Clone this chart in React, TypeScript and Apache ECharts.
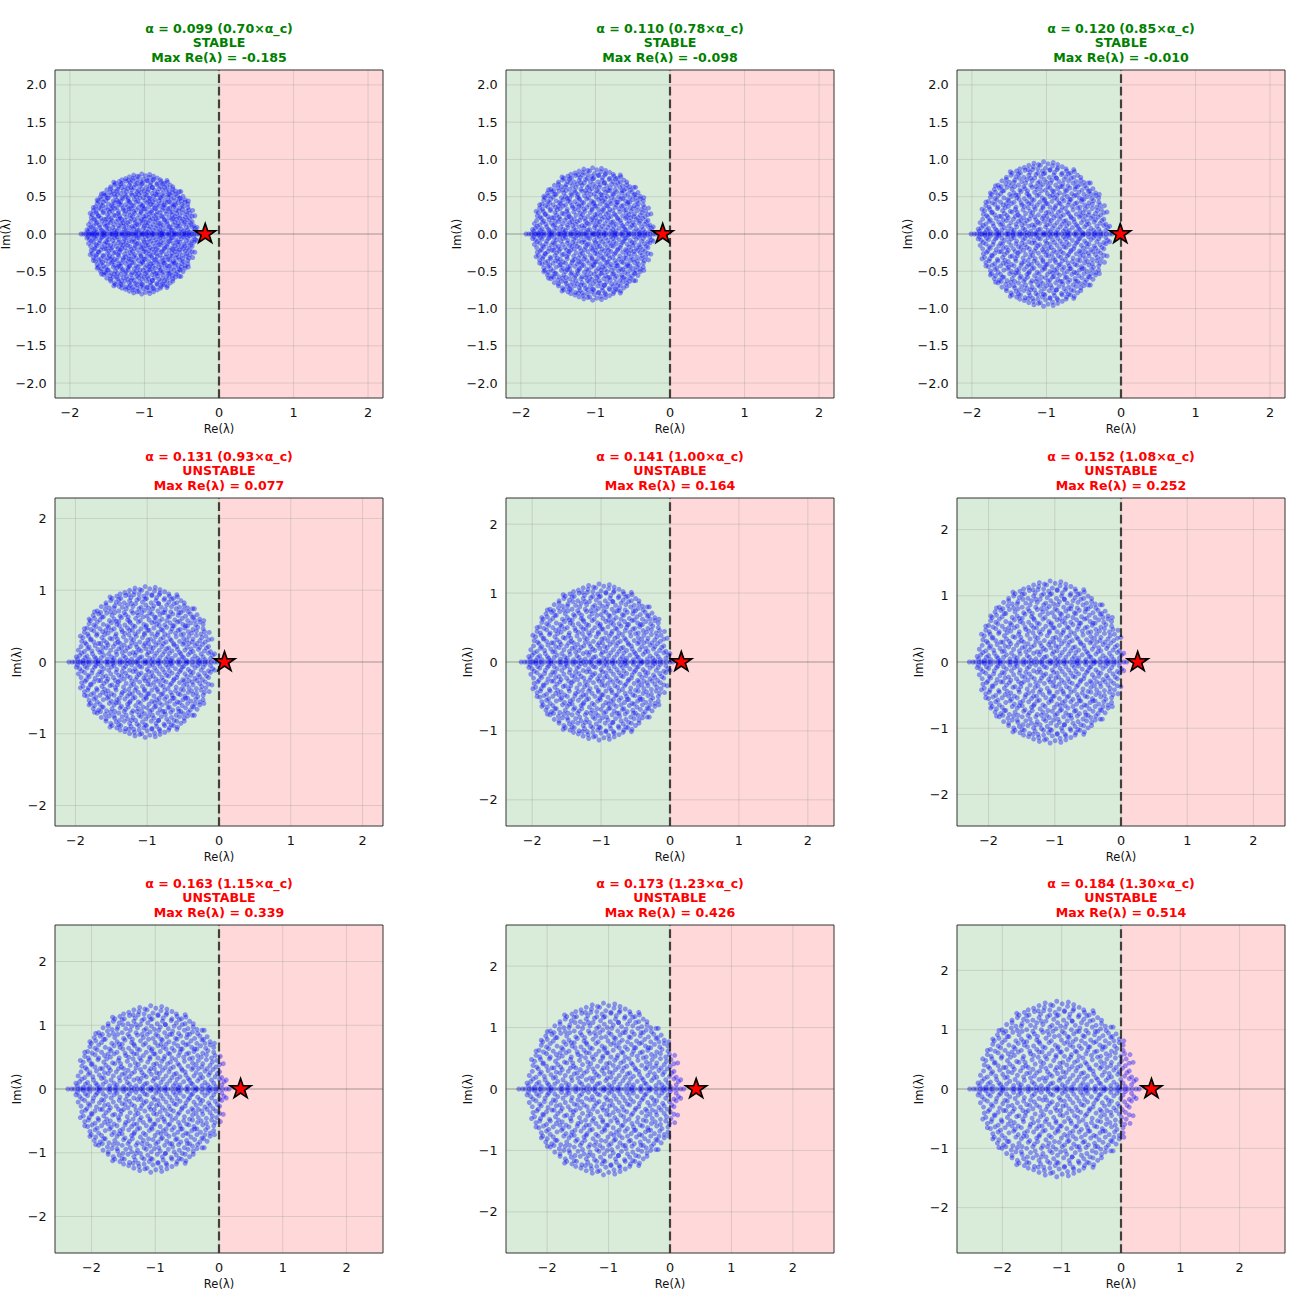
import React, { useEffect, useRef } from 'react';
import * as echarts from 'echarts';

// ---- values ----
const ALPHAS = [0.099, 0.11, 0.12, 0.131, 0.141, 0.152, 0.163, 0.173, 0.184];
const RATIO_LABELS = ['0.70', '0.78', '0.85', '0.93', '1.00', '1.08', '1.15', '1.23', '1.30'];
const MAX_RE = [-0.185, -0.098, -0.01, 0.077, 0.164, 0.252, 0.339, 0.426, 0.514];
const AXIS_LIMITS = [2.2, 2.2, 2.2, 2.285, 2.38, 2.477, 2.573, 2.669, 2.765];
// bulk of the spectrum: centre and semi-axes (in Re, Im) per panel
const BULK_CENTER = [-1.03, -1.03, -1.03, -1.02, -1.02, -1.06, -1.06, -1.07, -1.07];
const BULK_RX = [0.72, 0.79, 0.86, 0.94, 1.0, 1.08, 1.15, 1.22, 1.3];
const BULK_RY = [0.79, 0.87, 0.95, 1.03, 1.11, 1.2, 1.28, 1.37, 1.45];

const X_TICKS = [-2, -1, 0, 1, 2];
const Y_TICKS_FINE = [-2, -1.5, -1, -0.5, 0, 0.5, 1, 1.5, 2];
const Y_TICKS_COARSE = [-2, -1, 0, 1, 2];

// complex eigenvalues (upper half plane, normalised to the bulk); conjugates are mirrored
const UNIT_UPPER = [
  [-1.01,.04],[-.93,.02],[-.90,.06],[-.84,.03],[-.74,.05],[-.71,.02],[-.66,.06],[-.57,.04],[-.49,.02],[-.47,.05],[-.38,.03],[-.30,.06],[-.27,.02],[-.21,.04],[-.12,.03],[-.09,.06],[-.01,.02],[.06,.05],[.10,.03],[.18,.02],[.21,.06],[.30,.04],[.37,.02],[.39,.05],[.49,.03],[.56,.06],[.60,.02],[.69,.04],[.77,.05],[.80,.02],[.88,.03],[.96,.05],
  [-.98,.09],[-.95,.12],[-.87,.08],[-.79,.11],[-.76,.07],[-.68,.13],[-.62,.09],[-.55,.11],[-.51,.07],[-.43,.10],[-.35,.13],[-.33,.08],[-.24,.11],[-.16,.09],[-.14,.13],[-.06,.07],[.02,.10],[.04,.13],[.13,.08],[.16,.12],[.25,.10],[.33,.07],[.35,.12],[.44,.09],[.52,.11],[.54,.07],[.63,.10],[.66,.13],[.73,.08],[.82,.11],[.85,.07],[.93,.12],[.99,.09],
  [-1.0,.16],[-.91,.14],[-.86,.18],[-.80,.15],[-.71,.17],[-.65,.14],[-.59,.19],[-.52,.16],[-.44,.14],[-.40,.18],[-.30,.15],[-.27,.19],[-.19,.13],[-.10,.17],[-.07,.15],[0,.18],[.09,.14],[.11,.19],[.20,.16],[.28,.14],[.31,.18],[.39,.15],[.47,.17],[.50,.13],[.58,.16],[.67,.18],[.70,.14],[.78,.17],[.87,.15],[.90,.19],[.96,.14],
  [-.96,.21],[-.88,.24],[-.84,.20],[-.75,.22],[-.67,.25],[-.64,.20],[-.56,.23],[-.48,.21],[-.45,.25],[-.36,.19],[-.32,.23],[-.23,.21],[-.15,.24],[-.13,.20],[-.03,.22],[.04,.25],[.07,.20],[.15,.23],[.24,.21],[.26,.25],[.34,.19],[.42,.23],[.46,.21],[.55,.24],[.61,.20],[.64,.25],[.73,.22],[.80,.20],[.84,.24],[.93,.21],
  [-.95,.28],[-.90,.26],[-.82,.30],[-.77,.27],[-.70,.25],[-.62,.29],[-.58,.26],[-.50,.31],[-.41,.27],[-.38,.25],[-.29,.29],[-.21,.26],[-.18,.30],[-.09,.27],[-.01,.25],[.03,.30],[.12,.28],[.19,.26],[.22,.31],[.30,.27],[.38,.29],[.41,.25],[.50,.28],[.57,.26],[.61,.30],[.69,.27],[.76,.25],[.80,.29],[.88,.27],[.93,.30],
  [-.93,.33],[-.85,.35],[-.81,.31],[-.73,.36],[-.65,.33],[-.61,.37],[-.53,.32],[-.45,.35],[-.42,.31],[-.33,.34],[-.25,.37],[-.22,.32],[-.14,.35],[-.05,.33],[-.02,.37],[.07,.31],[.14,.34],[.17,.37],[.26,.33],[.33,.36],[.36,.31],[.45,.34],[.52,.37],[.56,.32],[.64,.35],[.70,.31],[.75,.36],[.83,.33],[.89,.35],
  [-.91,.40],[-.86,.38],[-.77,.42],[-.72,.38],[-.64,.41],[-.56,.39],[-.51,.43],[-.44,.38],[-.35,.41],[-.31,.39],[-.24,.43],[-.16,.38],[-.11,.41],[-.02,.39],[.05,.43],[.09,.38],[.18,.40],[.25,.43],[.28,.38],[.37,.41],[.44,.39],[.48,.43],[.56,.38],[.63,.41],[.68,.39],[.75,.42],[.82,.38],[.87,.41],
  [-.87,.46],[-.81,.44],[-.74,.48],[-.68,.45],[-.59,.43],[-.55,.47],[-.47,.45],[-.39,.49],[-.36,.44],[-.27,.46],[-.20,.43],[-.16,.48],[-.07,.45],[0,.47],[.03,.43],[.12,.46],[.20,.49],[.23,.44],[.31,.47],[.39,.45],[.42,.49],[.51,.44],[.58,.46],[.62,.49],[.70,.44],[.77,.47],[.85,.45],
  [-.84,.52],[-.77,.50],[-.72,.54],[-.63,.51],[-.57,.49],[-.51,.53],[-.43,.51],[-.40,.55],[-.31,.50],[-.23,.53],[-.19,.49],[-.11,.54],[-.03,.51],[.01,.49],[.09,.53],[.16,.51],[.20,.55],[.28,.50],[.36,.53],[.40,.49],[.47,.54],[.55,.51],[.59,.49],[.67,.53],[.74,.50],[.80,.54],[.85,.51],
  [-.82,.56],[-.76,.59],[-.68,.57],[-.63,.61],[-.54,.56],[-.47,.58],[-.44,.55],[-.36,.60],[-.27,.57],[-.24,.55],[-.15,.59],[-.08,.56],[-.04,.61],[.05,.57],[.13,.55],[.15,.60],[.24,.58],[.31,.56],[.35,.61],[.43,.57],[.50,.55],[.54,.59],[.62,.56],[.69,.60],[.73,.56],[.80,.58],
  [-.78,.63],[-.70,.65],[-.65,.61],[-.58,.66],[-.50,.63],[-.46,.67],[-.38,.62],[-.30,.64],[-.26,.61],[-.19,.66],[-.11,.63],[-.06,.67],[.02,.62],[.09,.65],[.13,.61],[.21,.64],[.28,.67],[.33,.62],[.40,.65],[.48,.63],[.52,.67],[.59,.62],[.66,.65],[.71,.61],[.76,.64],
  [-.72,.69],[-.67,.67],[-.60,.71],[-.52,.68],[-.47,.73],[-.40,.69],[-.32,.67],[-.29,.72],[-.21,.69],[-.13,.67],[-.10,.72],[-.02,.70],[.06,.67],[.10,.72],[.18,.69],[.25,.67],[.29,.71],[.37,.68],[.45,.72],[.49,.67],[.56,.70],[.63,.68],[.69,.72],
  [-.66,.75],[-.59,.77],[-.54,.73],[-.46,.76],[-.39,.79],[-.35,.74],[-.27,.77],[-.19,.75],[-.15,.79],[-.07,.74],[0,.77],[.04,.73],[.12,.76],[.19,.79],[.23,.74],[.31,.77],[.38,.75],[.42,.79],[.50,.74],[.57,.76],[.62,.73],
  [-.59,.80],[-.52,.83],[-.44,.81],[-.40,.85],[-.32,.80],[-.24,.83],[-.21,.79],[-.13,.84],[-.05,.81],[-.01,.85],[.08,.80],[.15,.83],[.19,.79],[.27,.84],[.34,.81],[.38,.85],[.46,.80],[.52,.83],[.57,.80],
  [-.50,.86],[-.43,.89],[-.37,.86],[-.30,.90],[-.22,.87],[-.18,.91],[-.10,.86],[-.03,.89],[.01,.86],[.09,.90],[.16,.87],[.20,.91],[.28,.86],[.35,.89],[.41,.86],[.47,.88],
  [-.38,.92],[-.31,.94],[-.25,.91],[-.17,.95],[-.10,.92],[-.06,.97],[.02,.93],[.09,.91],[.13,.96],[.21,.93],[.28,.95],[.34,.92],
  [-.24,.97],[-.16,1.0],[-.09,.98],[-.01,1.02],[.06,.99],[.14,1.01],[.21,.98],
  [1.02,.11],[-1.03,.07],[.98,.31],[-.97,.35],[.72,.72],[-.76,.68],[.46,.91],[-.53,.88],[.94,.40],[-.91,.45],[.86,.56],[-.84,.58],
];

// real eigenvalues (on the real axis), normalised to the bulk
const REAL_UNIT = [-1.14,-1.09,-1.05,-1.0,-.97,-.93,-.88,-.85,-.79,-.74,-.71,-.66,-.6,-.57,-.55,-.49,-.43,-.38,-.35,-.31,-.24,-.19,-.15,-.12,-.05,0,.02,.08,.13,.19,.22,.27,.33,.36,.41,.47,.5,.56,.61,.63,.69,.74,.78,.83,.88,.92,.97,1.02,1.06];

const STAR_PATH = 'path://M0,-100L-22.45,-30.9L-95.11,-30.9L-36.33,11.8L-58.78,80.9L0,38.2L58.78,80.9L36.33,11.8L95.11,-30.9L22.45,-30.9Z';

const COL_LEFT = [55, 506, 957];
const ROW_TOP = [70, 498, 925];
const PLOT = 328;
const FONT = 'DejaVu Sans';

function fmtTick(v: number, dec: number) {
  const s = Math.abs(v).toFixed(dec);
  return v < -1e-9 ? '\u2212' + s : s;
}

export default function App() {
  const ref = useRef<HTMLDivElement>(null);
  useEffect(() => {
    const chart = echarts.init(ref.current, null, { renderer: 'svg' });
    const grids: any[] = [];
    const xAxes: any[] = [];
    const yAxes: any[] = [];
    const series: any[] = [];
    const graphics: any[] = [];

    for (let i = 0; i < 9; i++) {
      const row = Math.floor(i / 3);
      const col = i % 3;
      const left = COL_LEFT[col];
      const top = ROW_TOP[row];
      const L = AXIS_LIMITS[i];
      const yTicks = row === 0 ? Y_TICKS_FINE : Y_TICKS_COARSE;
      const yDec = row === 0 ? 1 : 0;
      const stable = MAX_RE[i] < 0;
      const tColor = stable ? '#008000' : '#ff0000';

      grids.push({
        left, top, width: PLOT, height: PLOT, show: true,
        borderColor: '#333', borderWidth: 1, backgroundColor: 'transparent', z: 10,
      });
      xAxes.push({
        type: 'value', gridIndex: i, min: -L, max: L,
        axisLine: { show: false }, splitLine: { show: false },
        axisTick: { show: true, length: 4.2, lineStyle: { color: '#333', width: 1 }, customValues: X_TICKS },
        axisLabel: { customValues: X_TICKS, formatter: (v: number) => fmtTick(v, 0), margin: 7.5, fontSize: 12.8, color: '#111', fontFamily: FONT },
      });
      yAxes.push({
        type: 'value', gridIndex: i, min: -L, max: L,
        axisLine: { show: false }, splitLine: { show: false },
        axisTick: { show: true, length: 4.2, lineStyle: { color: '#333', width: 1 }, customValues: yTicks },
        axisLabel: { customValues: yTicks, formatter: (v: number) => fmtTick(v, yDec), margin: 8.4, fontSize: 12.8, color: '#111', fontFamily: FONT },
      });

      // backgrounds + grid lines
      series.push({
        type: 'custom', xAxisIndex: i, yAxisIndex: i, z: 1, silent: true,
        data: [[0, 0]],
        renderItem: (_p: any, api: any) => {
          const a = api.coord([-L, L]);
          const m = api.coord([0, -L]);
          const b = api.coord([L, -L]);
          const children: any[] = [
            { type: 'rect', shape: { x: a[0], y: a[1], width: m[0] - a[0], height: m[1] - a[1] }, style: { fill: '#d9ecd9' } },
            { type: 'rect', shape: { x: m[0], y: a[1], width: b[0] - m[0], height: m[1] - a[1] }, style: { fill: '#ffd9d9' } },
          ];
          X_TICKS.forEach((t) => {
            const p1 = api.coord([t, -L]);
            const p2 = api.coord([t, L]);
            children.push({ type: 'line', shape: { x1: p1[0], y1: p1[1], x2: p2[0], y2: p2[1] }, style: { stroke: 'rgba(150,150,150,0.3)', lineWidth: 1 } });
          });
          yTicks.forEach((t) => {
            const p1 = api.coord([-L, t]);
            const p2 = api.coord([L, t]);
            children.push({ type: 'line', shape: { x1: p1[0], y1: p1[1], x2: p2[0], y2: p2[1] }, style: { stroke: 'rgba(150,150,150,0.3)', lineWidth: 1 } });
          });
          return { type: 'group', children };
        },
      });

      const c = BULK_CENTER[i];
      const rx = BULK_RX[i];
      const ry = BULK_RY[i];
      const pts: number[][] = [];
      UNIT_UPPER.forEach(([u, v]) => {
        const x = c + rx * u;
        pts.push([x, ry * v], [x, -ry * v]);
      });
      REAL_UNIT.forEach((u) => pts.push([c + rx * u, 0]));

      series.push({
        type: 'scatter', xAxisIndex: i, yAxisIndex: i, z: 2, silent: true,
        symbol: 'circle', symbolSize: 5, data: pts,
        itemStyle: { color: '#0000ff', opacity: 0.38 },
      });
      series.push({
        type: 'line', xAxisIndex: i, yAxisIndex: i, z: 3, silent: true, symbol: 'none',
        data: [[-L, 0], [L, 0]], lineStyle: { color: 'rgba(0,0,0,0.3)', width: 0.8 },
      });
      series.push({
        type: 'line', xAxisIndex: i, yAxisIndex: i, z: 4, silent: true, symbol: 'none',
        data: [[0, -L], [0, L]], lineStyle: { color: 'rgba(0,0,0,0.7)', width: 2.2, type: [8.8, 3.8] },
      });
      series.push({
        type: 'scatter', xAxisIndex: i, yAxisIndex: i, z: 5, silent: true,
        symbol: STAR_PATH, symbolSize: [21, 20], symbolOffset: [0, -1], symbolKeepAspect: true,
        data: [[MAX_RE[i], 0]],
        itemStyle: { color: '#ff0000', borderColor: '#000', borderWidth: 1.6, opacity: 1 },
      });

      const cx = left + PLOT / 2;
      const lines = [
        `α = ${ALPHAS[i].toFixed(3)} (${RATIO_LABELS[i]}×α_c)`,
        stable ? 'STABLE' : 'UNSTABLE',
        `Max Re(λ) = ${MAX_RE[i].toFixed(3)}`,
      ];
      const offs = [42, 27.5, 13];
      lines.forEach((t, k) => {
        graphics.push({
          type: 'text', x: cx, y: top - offs[k], silent: true,
          style: { text: t, fill: tColor, fontSize: 12.6, fontWeight: 'bold', fontFamily: FONT, align: 'center', verticalAlign: 'middle' },
        });
      });
      graphics.push({
        type: 'text', x: cx, y: top + PLOT + 31, silent: true,
        style: { text: 'Re(λ)', fill: '#111', fontSize: 11.5, fontFamily: FONT, align: 'center', verticalAlign: 'middle' },
      });
      graphics.push({
        type: 'text', x: left - (row === 0 ? 49 : 38), y: top + PLOT / 2, rotation: Math.PI / 2, silent: true,
        style: { text: 'Im(λ)', fill: '#111', fontSize: 11.5, fontFamily: FONT, align: 'center', verticalAlign: 'middle' },
      });
    }

    chart.setOption({
      animation: false,
      backgroundColor: '#ffffff',
      textStyle: { fontFamily: FONT },
      grid: grids,
      xAxis: xAxes,
      yAxis: yAxes,
      series,
      graphic: graphics,
    });
    return () => chart.dispose();
  }, []);

  return <div ref={ref} style={{ position: 'absolute', left: 0, top: 0, width: 1292, height: 1298 }} />;
}
